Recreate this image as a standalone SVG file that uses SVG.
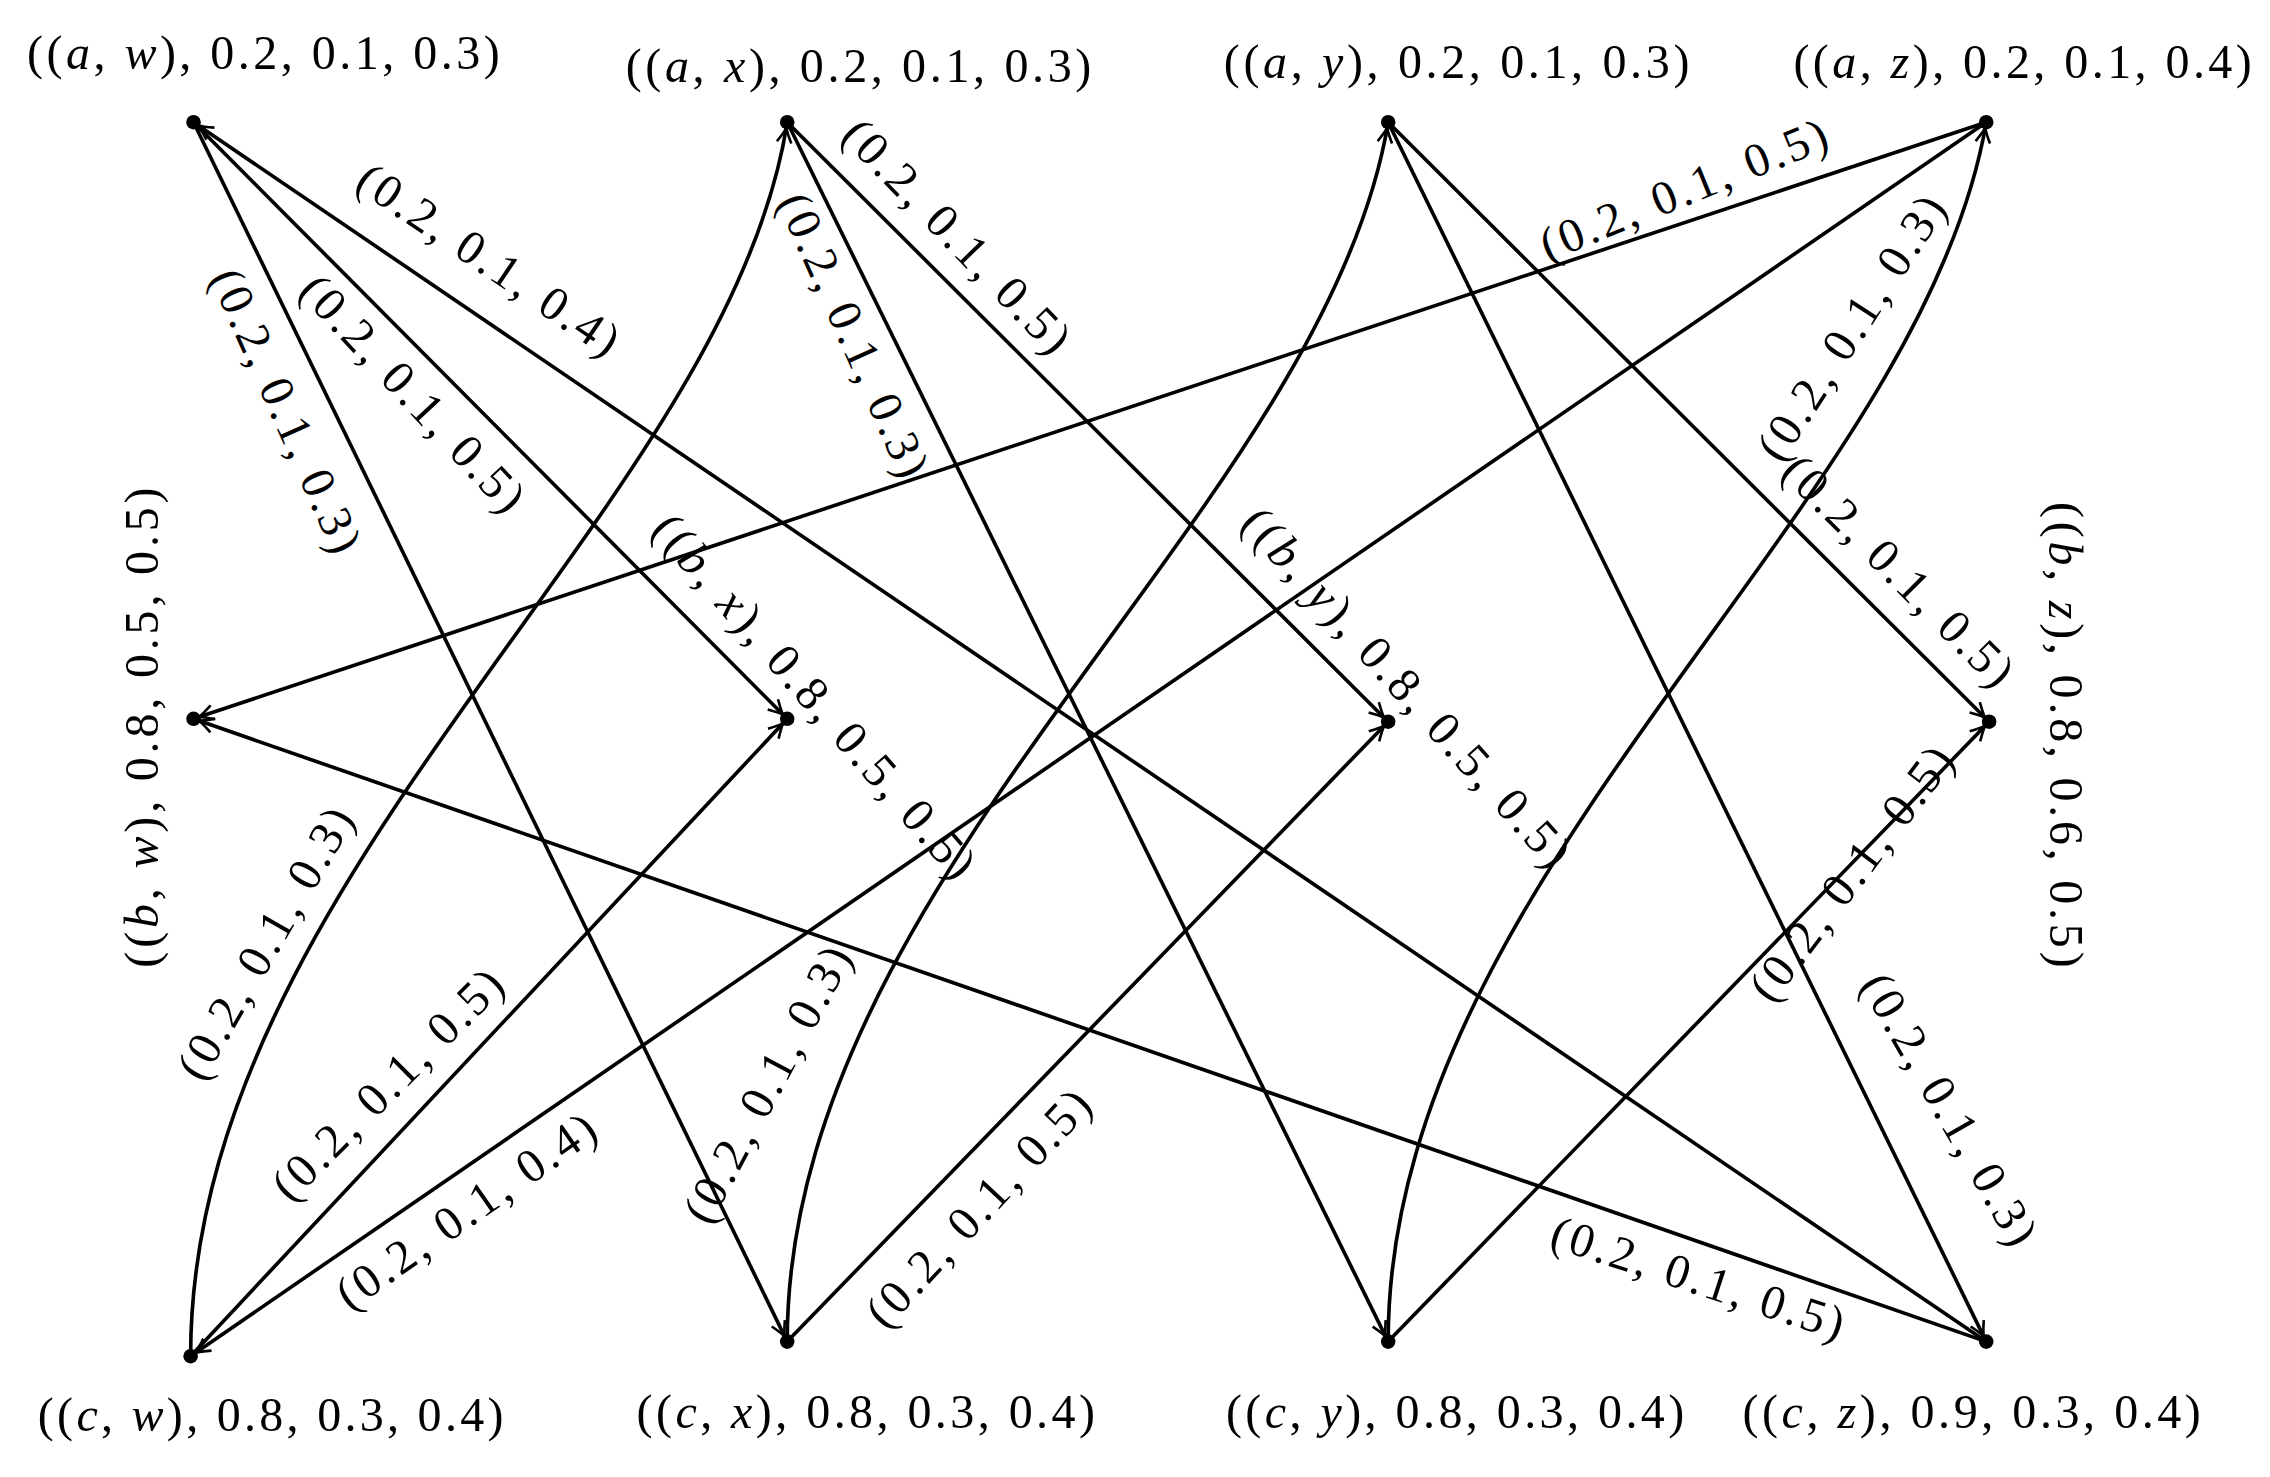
<svg xmlns="http://www.w3.org/2000/svg" width="2270" height="1477" viewBox="0 0 2270 1477">
<style>
.e{fill:none;stroke:#000;stroke-width:2.5}
.t{font-family:"Liberation Serif","DejaVu Serif",serif;font-size:33px;fill:#000;text-anchor:middle;dominant-baseline:central}
.i{font-style:italic}
</style>
<defs>
<marker id="ar" markerUnits="userSpaceOnUse" markerWidth="20" markerHeight="20" viewBox="-12 -8 20 16" refX="4" refY="0" orient="auto">
<path d="M-10,-5 Q-3,-1 0,0 Q-3,1 -10,5" fill="none" stroke="#000" stroke-width="1.8"/>
</marker>
</defs>
<rect width="2270" height="1477" fill="#fff"/>
<g transform="scale(1.4551)">
<g id="connectors">
<path class="e" marker-end="url(#ar)" d="M133,84 L541,922"/>
<path class="e" marker-end="url(#ar)" d="M133,84 L541,494"/>
<path class="e" marker-end="url(#ar)" d="M1365,922 L133,84"/>
<path class="e" marker-end="url(#ar)" d="M131,932 C131,600 500,350 541,84"/>
<path class="e" marker-end="url(#ar)" d="M541,84 L954,922"/>
<path class="e" marker-end="url(#ar)" d="M541,84 L954,496"/>
<path class="e" marker-end="url(#ar)" d="M131,932 L541,494"/>
<path class="e" marker-end="url(#ar)" d="M1365,84 L131,932"/>
<path class="e" marker-end="url(#ar)" d="M541,922 C541,600 910,350 954,84"/>
<path class="e" marker-end="url(#ar)" d="M541,922 L954,496"/>
<path class="e" marker-end="url(#ar)" d="M1365,84 L133,494"/>
<path class="e" marker-end="url(#ar)" d="M954,84 L1367,496"/>
<path class="e" marker-end="url(#ar)" d="M954,84 L1365,922"/>
<path class="e" marker-end="url(#ar)" d="M954,922 C954,600 1320,350 1365,84"/>
<path class="e" marker-end="url(#ar)" d="M954,922 L1367,496"/>
<path class="e" marker-end="url(#ar)" d="M1365,922 L133,494"/>
</g>
<g id="edge-labels">
<text class="t" textLength="210" transform="translate(197,282) rotate(66)">(0.2, 0.1, 0.3)</text>
<text class="t" textLength="210" transform="translate(284,270) rotate(47)">(0.2, 0.1, 0.5)</text>
<text class="t" textLength="210" transform="translate(336,178) rotate(34)">(0.2, 0.1, 0.4)</text>
<text class="t" textLength="210" transform="translate(182,648) rotate(-60)">(0.2, 0.1, 0.3)</text>
<text class="t" textLength="210" transform="translate(587,230) rotate(66)">(0.2, 0.1, 0.3)</text>
<text class="t" textLength="210" transform="translate(658,162) rotate(46)">(0.2, 0.1, 0.5)</text>
<text class="t" textLength="210" transform="translate(266,745) rotate(-45)">(0.2, 0.1, 0.5)</text>
<text class="t" textLength="210" transform="translate(320,832) rotate(-35)">(0.2, 0.1, 0.4)</text>
<text class="t" textLength="210" transform="translate(527,745) rotate(-62)">(0.2, 0.1, 0.3)</text>
<text class="t" textLength="210" transform="translate(672,830) rotate(-47)">(0.2, 0.1, 0.5)</text>
<text class="t" textLength="210" transform="translate(1157,130) rotate(-22)">(0.2, 0.1, 0.5)</text>
<text class="t" textLength="210" transform="translate(1305,392) rotate(45)">(0.2, 0.1, 0.5)</text>
<text class="t" textLength="210" transform="translate(1340,762) rotate(60)">(0.2, 0.1, 0.3)</text>
<text class="t" textLength="210" transform="translate(1272,225) rotate(-57)">(0.2, 0.1, 0.3)</text>
<text class="t" textLength="210" transform="translate(1272,600) rotate(-53)">(0.2, 0.1, 0.5)</text>
<text class="t" textLength="210" transform="translate(1167,878) rotate(18)">(0.2, 0.1, 0.5)</text>
</g>
<g id="aw"><circle cx="133" cy="84" r="5"/><text class="t" x="181" y="36" textLength="325">((<tspan class="i">a</tspan>, <tspan class="i">w</tspan>), 0.2, 0.1, 0.3)</text></g>
<g id="ax"><circle cx="541" cy="84" r="5"/><text class="t" x="590" y="45" textLength="320">((<tspan class="i">a</tspan>, <tspan class="i">x</tspan>), 0.2, 0.1, 0.3)</text></g>
<g id="ay"><circle cx="954" cy="84" r="5"/><text class="t" x="1001" y="42" textLength="320">((<tspan class="i">a</tspan>, <tspan class="i">y</tspan>), 0.2, 0.1, 0.3)</text></g>
<g id="az"><circle cx="1365" cy="84" r="5"/><text class="t" x="1390" y="42" textLength="315">((<tspan class="i">a</tspan>, <tspan class="i">z</tspan>), 0.2, 0.1, 0.4)</text></g>
<g id="bw"><circle cx="133" cy="494" r="5"/><text class="t" textLength="330" transform="translate(97,500) rotate(-90)">((<tspan class="i">b</tspan>, <tspan class="i">w</tspan>), 0.8, 0.5, 0.5)</text></g>
<g id="bx"><circle cx="541" cy="494" r="5"/><text class="t" textLength="320" transform="translate(560,478) rotate(49)">((<tspan class="i">b</tspan>, <tspan class="i">x</tspan>), 0.8, 0.5, 0.5)</text></g>
<g id="by"><circle cx="954" cy="496" r="5"/><text class="t" textLength="320" transform="translate(967,472) rotate(48)">((<tspan class="i">b</tspan>, <tspan class="i">y</tspan>), 0.8, 0.5, 0.5)</text></g>
<g id="bz"><circle cx="1367" cy="496" r="5"/><text class="t" textLength="320" transform="translate(1420,505) rotate(90)">((<tspan class="i">b</tspan>, <tspan class="i">z</tspan>), 0.8, 0.6, 0.5)</text></g>
<g id="cw"><circle cx="131" cy="932" r="5"/><text class="t" x="186" y="972" textLength="320">((<tspan class="i">c</tspan>, <tspan class="i">w</tspan>), 0.8, 0.3, 0.4)</text></g>
<g id="cx"><circle cx="541" cy="922" r="5"/><text class="t" x="595" y="970" textLength="315">((<tspan class="i">c</tspan>, <tspan class="i">x</tspan>), 0.8, 0.3, 0.4)</text></g>
<g id="cy"><circle cx="954" cy="922" r="5"/><text class="t" x="1000" y="970" textLength="315">((<tspan class="i">c</tspan>, <tspan class="i">y</tspan>), 0.8, 0.3, 0.4)</text></g>
<g id="cz"><circle cx="1365" cy="922" r="5"/><text class="t" x="1355" y="970" textLength="315">((<tspan class="i">c</tspan>, <tspan class="i">z</tspan>), 0.9, 0.3, 0.4)</text></g>
</g>
</svg>
